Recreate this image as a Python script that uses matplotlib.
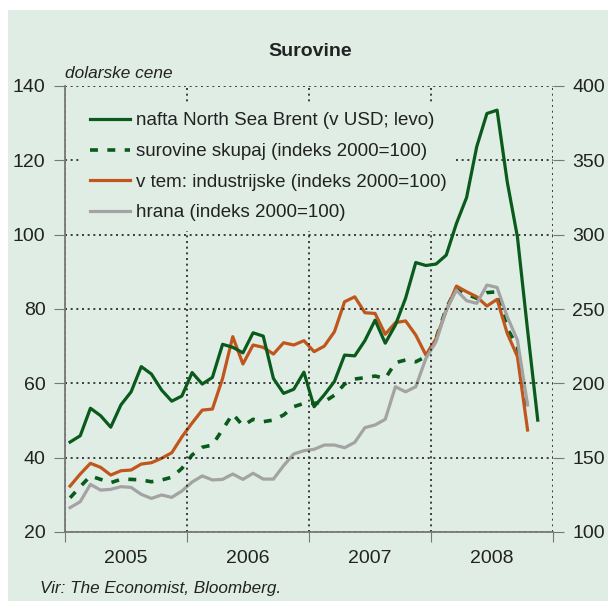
import numpy as np
import matplotlib
matplotlib.use('Agg')
import matplotlib.pyplot as plt
from matplotlib.patches import Rectangle

plt.rcParams['font.family'] = ['Liberation Sans', 'DejaVu Sans']

# mesecni podatki jan 2005 - nov 2008
nafta = [44.2, 45.9, 53.3, 51.3, 48.2, 54.2, 57.7, 64.5, 62.5, 58.2, 55.2, 56.6,
         62.9, 59.8, 61.6, 70.5, 69.7, 68.2, 73.6, 72.7, 61.3, 57.3, 58.4, 63.0,
         53.7, 56.9, 60.5, 67.6, 67.4, 71.5, 77.0, 70.8, 75.7, 82.9, 92.5, 91.7,
         92.1, 94.5, 103.0, 110.0, 123.7, 132.6, 133.5, 114.2, 99.4, 74.3, 50.1]
skupaj = [123, 130.5, 137.7, 135.4, 133.2, 135.4, 135.4, 135, 133.8, 135, 136.8, 142.8,
          151.8, 157, 158.5, 169, 179.4, 171.5, 175.8, 174.2, 175.3, 178.7, 184.3, 186.5,
          186.5, 187.6, 192, 199.5, 202.9, 203.8, 204.9, 203.3, 213.9, 215.7, 214.5, 217.9,
          230.3, 250.4, 263.9, 260, 257.2, 261, 261.6, 237, 224.6, 183]
industrijske = [130.9, 139, 146.2, 143.5, 138.3, 141.2, 141.7, 145.7, 146.6, 149.6, 153.3, 164,
                173.3, 182, 182.7, 203.3, 231.4, 213, 225.8, 224.2, 219.7, 227.3, 225.8, 228.7,
                221.3, 225, 234.7, 254.9, 258.2, 247.5, 247, 233, 240.8, 242, 232.5, 219,
                230, 249, 265.4, 261.6, 258.2, 252, 256.5, 233.6, 218, 168.6]
hrana = [116.4, 120.4, 132, 128.2, 128.7, 130.5, 130, 125.3, 122.6, 124.9, 123.3, 127.6,
         133.6, 137.7, 135, 135.4, 139, 135.4, 139.5, 135.6, 135.6, 144.6, 152.5, 154.7,
         155.6, 158.5, 158.5, 156.7, 160.3, 170.2, 172, 175.8, 197.7, 194.3, 197.7, 216.8,
         228, 249.3, 262.7, 255.6, 253.8, 266.1, 264.5, 244.8, 229.1, 185.4]
leta = ['2005', '2006', '2007', '2008']
oznake = ['nafta North Sea Brent (v USD; levo)', 'surovine skupaj (indeks 2000=100)',
          'v tem: industrijske (indeks 2000=100)', 'hrana (indeks 2000=100)']

bg = '#dfede5'
c_nafta = '#0a5a1c'
c_ind = '#c0561c'
c_hrana = '#a3a3a3'

fig = plt.figure(figsize=(6.08, 6.03), dpi=100, facecolor='white')
fig.patches.append(Rectangle((8 / 608, 2 / 603), 1, 1 - 12 / 603, transform=fig.transFigure,
                             facecolor=bg, edgecolor='none', zorder=-10))

ax = fig.add_axes([65 / 608, 1 - 532 / 603, 488 / 608, 446 / 603])
ax.set_facecolor('none')
ax2 = ax.twinx()
ax2.set_zorder(ax.get_zorder() - 1)  # indeksi pod nafto
ax.patch.set_visible(False)

x1 = np.arange(len(nafta)) + 0.5
x2 = np.arange(len(skupaj)) + 0.5

l2, = ax2.plot(x2, skupaj, color=c_nafta, lw=2.6, ls=(0, (2.2, 2.6)))
l3, = ax2.plot(x2, industrijske, color=c_ind, lw=2.3)
l4, = ax2.plot(x2, hrana, color=c_hrana, lw=2.3)
l1, = ax.plot(x1, nafta, color=c_nafta, lw=2.3, zorder=5)

ax.set_xlim(0, 48)
ax.set_ylim(20, 140)
ax2.set_ylim(100, 400)
ax.set_yticks(range(20, 141, 20))
ax2.set_yticks(range(100, 401, 50))
ax.set_xticks([0, 12, 24, 36, 48])
ax.set_xticklabels([])
ax.set_xticks([6, 18, 30, 42], minor=True)
ax.set_xticklabels(leta, minor=True)
ax.tick_params(axis='x', which='minor', length=0, pad=13, labelsize=14, colors='#222222')
ax.tick_params(axis='x', which='major', length=7, direction='out', color='#777777')
ax.tick_params(axis='y', length=8, direction='out', color='#777777', labelsize=14,
               labelcolor='#222222', pad=6)
ax2.tick_params(axis='y', length=8, direction='out', color='#777777', labelsize=14,
                labelcolor='#222222', pad=6)

ax.grid(True, which='major', ls=(0, (1.2, 2.2)), color='#222222', lw=1.2, zorder=1)
ax.set_axisbelow(True)
for s in ['top', 'right']:
    ax.spines[s].set_visible(False)
for s in ['top', 'right', 'left', 'bottom']:
    ax2.spines[s].set_visible(False)
ax.spines['left'].set_color('#777777')
ax.spines['bottom'].set_color('#777777')
ax.spines['left'].set_linewidth(1.3)
ax.spines['bottom'].set_linewidth(1.3)

leg = ax.legend([l1, l2, l3, l4], oznake,
                loc='upper left', bbox_to_anchor=(0.012, 0.983), frameon=True, fontsize=13.5,
                handlelength=2.15, handletextpad=0.3, labelspacing=0.72, borderpad=0.5)
leg.set_zorder(3)
leg.get_frame().set_facecolor(bg)
leg.get_frame().set_edgecolor('none')
leg.get_frame().set_alpha(1)
leg.get_frame().set_boxstyle('square', pad=0)
for t in leg.get_texts():
    t.set_color('#222222')

fig.text(310 / 608, 1 - 52 / 603, 'Surovine', ha='center', va='center', fontsize=14,
         fontweight='bold', color='#222222')
fig.text(65 / 608, 1 - 74 / 603, 'dolarske cene', ha='left', va='center', fontsize=12.4,
         style='italic', color='#222222')
fig.text(40 / 608, 1 - 588 / 603, 'Vir: The Economist, Bloomberg.', ha='left', va='center',
         fontsize=12.3, style='italic', color='#222222')

fig.savefig('out.png', dpi=100, facecolor='white')
